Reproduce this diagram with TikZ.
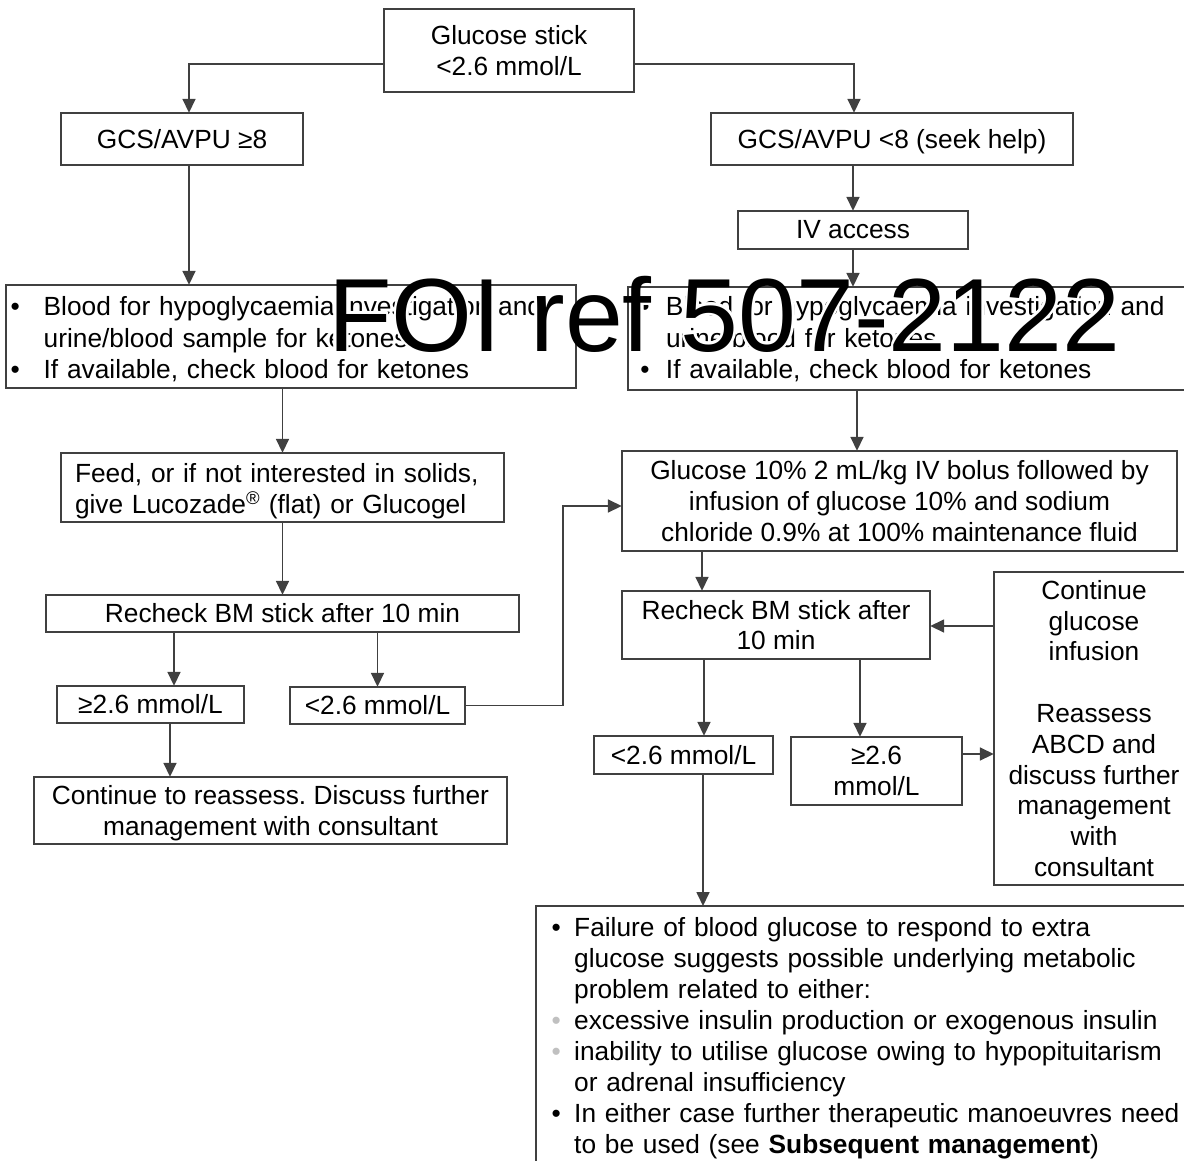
\documentclass[tikz,border=0pt]{standalone}
\usepackage{fontspec}
\setmainfont{Liberation Sans}
\usetikzlibrary{arrows.meta}

\definecolor{edge}{HTML}{404040}
\definecolor{soft}{HTML}{C0C0C0}
\newcommand\bodysize{\fontsize{26.3pt}{30.8pt}\selectfont\frenchspacing}
\newcommand\wmsize{\fontsize{104pt}{110pt}\selectfont}
% bullet paragraph: [bullet glyph]{hanging indent}{text, lines broken with \newline}
\newcommand\bitem[3][\textbullet]{\noindent\hangindent=#2\relax\hangafter=1\relax\makebox[#2][l]{#1}\ignorespaces#3\par}
% invisible prop that lowers the first line of a block
\newcommand\lift[1]{\rule{0pt}{#1}}

\tikzset{
  box/.style={fill=white, inner sep=0pt, align=center, font=\bodysize},
  listbox/.style={fill=white, inner ysep=0pt, align=left, font=\bodysize},
  frame/.style={draw=edge, line width=1.7pt},
  arr/.style={draw=edge, line width=1.7pt, -{Triangle[length=14pt,width=13pt]}},
  wm/.style={anchor=base west, inner sep=0pt, font=\wmsize},
}

\begin{document}
\begin{tikzpicture}[x=1pt, y=-1pt]
\clip (0,0) rectangle (1184,1160);
\fill[white] (0,0) rectangle (1184,1160);

% ---- boxes (text and white fill) ----
\node[box, minimum width=250pt, minimum height=83pt] (top) at (509,50.5) {Glucose stick\\<2.6 mmol/L};
\node[box, minimum width=242pt, minimum height=52pt] (gl) at (182,139) {GCS/AVPU ≥8};
\node[box, minimum width=362pt, minimum height=52pt, text depth=0pt] (gr) at (892,139) {GCS/AVPU <8 (seek help)};
\node[box, minimum width=230pt, minimum height=38pt] (iv) at (853,230) {IV access};

\node[listbox, inner xsep=4.7pt, text width=560.6pt, minimum height=103pt] (bl) at (291,336.5)
  {\baselineskip=31.5pt
   \bitem{33pt}{\lift{25pt}Blood for hypoglycaemia investigation and\newline urine/blood sample for ketones}
   \bitem{33pt}{If available, check blood for ketones}};
\node[listbox, inner xsep=12.4pt, text width=547.2pt, minimum height=103pt] (br) at (914,338.5)
  {\baselineskip=31.5pt
   \bitem{25.6pt}{\lift{21pt}Blood for hypoglycaemia investigation and\newline urine/blood for ketones}
   \bitem{25.6pt}{If available, check blood for ketones}};

\node[listbox, inner xsep=14pt, text width=415pt, minimum height=69pt] (feed) at (282.5,487.5)
  {\lift{27pt}Feed, or if not interested in solids,\\ give Lucozade\textsuperscript{®} (flat) or Glucogel};
\node[box, minimum width=555pt, minimum height=100pt] (glc) at (899.5,501)
  {Glucose 10\% 2 mL/kg IV bolus followed by\\ infusion of glucose 10\% and sodium\\ chloride 0.9\% at 100\% maintenance fluid};

\node[box, minimum width=473pt, minimum height=37pt] (rl) at (282.5,613.5) {Recheck BM stick after 10 min};
\node[box, minimum width=308pt, minimum height=68pt] (rr) at (776,625) {Recheck BM stick after\\ 10 min};
\node[box, minimum width=200pt, minimum height=313pt] (cg) at (1094,728.5)
  {Continue\\ glucose\\ infusion\\[30.8pt] Reassess\\ ABCD and\\ discuss further\\ management\\ with\\ consultant};

\node[box, minimum width=187pt, minimum height=37pt] (lge) at (150.5,704.5) {≥2.6 mmol/L};
\node[box, minimum width=175pt, minimum height=37pt] (llt) at (377.5,705.5) {<2.6 mmol/L};
\node[box, minimum width=473pt, minimum height=67pt, text depth=0pt] (cont) at (270.5,810.5)
  {Continue to reassess. Discuss further\\ management with consultant};

\node[box, minimum width=179pt, minimum height=38pt] (rlt) at (683.5,755) {<2.6 mmol/L};
\node[box, minimum width=171pt, minimum height=68pt] (rge) at (876.5,771) {≥2.6\\ mmol/L};

\node[listbox, anchor=north west, inner xsep=15.4pt, inner ysep=11pt, text width=680pt] (bot) at (536,906)
  {\baselineskip=31.1pt
   \bitem{22.6pt}{Failure of blood glucose to respond to extra\newline glucose suggests possible underlying metabolic\newline problem related to either:}
   \bitem[{\color{soft}\textbullet}]{22.6pt}{excessive insulin production or exogenous insulin}
   \bitem[{\color{soft}\textbullet}]{22.6pt}{inability to utilise glucose owing to hypopituitarism\newline or adrenal insufficiency}
   \bitem{22.6pt}{In either case further therapeutic manoeuvres need\newline to be used (see \textbf{Subsequent management})}};

% ---- white halo of the reference stamp ----
\foreach \a in {0,30,...,330}
  \node[wm, text=white, shift={(\a:2.6pt)}] at (328,351) {FOI ref 507-2122};

% ---- box outlines ----
\foreach \n in {top,gl,gr,iv,bl,br,feed,glc,rl,rr,cg,lge,llt,cont,rlt,rge}
  \draw[frame] (\n.north west) rectangle (\n.south east);
\draw[frame] (bot.north west) rectangle ++(700,300);

% ---- connectors ----
\draw[arr] (top.west |- 0,64) -| ([xshift=7pt]gl.north);
\draw[arr] (top.east |- 0,64) -| (gr.north -| 854,0);
\draw[arr] (gr.south -| iv.north) -- (iv.north);
\draw[arr] (iv.south) -- (iv.south |- br.north);
\draw[arr] ([xshift=7pt]gl.south) -- ([xshift=7pt]gl.south |- bl.north);
\draw[arr] (bl.south -| feed.north) -- (feed.north);
\draw[arr] (feed.south) -- (feed.south |- rl.north);
\draw[arr] (rl.south -| 174,0) -- (lge.north -| 174,0);
\draw[arr] (rl.south -| llt.north) -- (llt.north);
\draw[arr] (lge.south -| 170,0) -- (cont.north -| 170,0);
\draw[arr] (llt.east) -| (563,506) -- (glc.west |- 0,506);
\draw[arr] (br.south -| 857,0) -- (glc.north -| 857,0);
\draw[arr] (glc.south -| 702,0) -- (rr.north -| 702,0);
\draw[arr] (cg.west |- 0,626) -- (rr.east |- 0,626);
\draw[arr] (rr.south -| 704,0) -- (rlt.north -| 704,0);
\draw[arr] (rr.south -| 860,0) -- (rge.north -| 860,0);
\draw[arr] (rge.east |- 0,754) -- (cg.west |- 0,754);
\draw[arr] (rlt.south -| 703,0) -- (bot.north -| 703,0);

% ---- reference stamp ----
\node[wm] (stamp) at (328,351) {FOI ref 507-2122};
\end{tikzpicture}
\end{document}
